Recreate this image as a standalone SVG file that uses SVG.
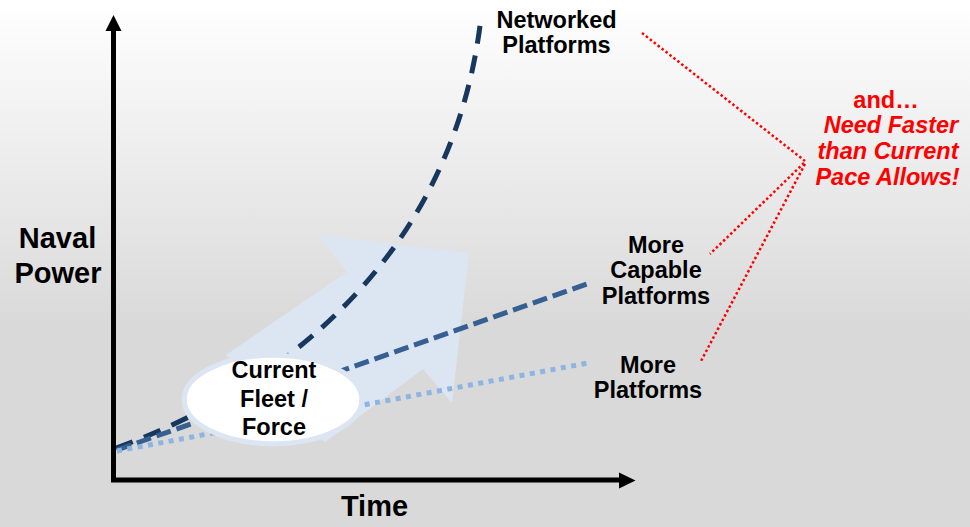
<svg xmlns="http://www.w3.org/2000/svg" width="970" height="527" viewBox="0 0 970 527">
  <defs>
    <linearGradient id="bg" x1="0" y1="0" x2="0" y2="1">
      <stop offset="0" stop-color="#ffffff"/>
      <stop offset="0.62" stop-color="#d9d9d9"/>
      <stop offset="1" stop-color="#d9d9d9"/>
    </linearGradient>
  </defs>
  <style>
    text { font-family: "Liberation Sans", Arial, sans-serif; font-weight: bold; text-anchor: middle; fill: #000000; }
    .axis-label { font-size: 29px; }
    .label { font-size: 23.5px; }
    .red { fill: #ff0000; font-size: 23.5px; }
    .ital { font-style: italic; }
    .axis { stroke: #000000; stroke-width: 5; fill: none; }
    .head { fill: #000000; }
    .net { stroke: #17375e; stroke-width: 5; fill: none; stroke-dasharray: 18 12; }
    .cap { stroke: #376092; stroke-width: 5; fill: none; stroke-dasharray: 15 6; }
    .plat { stroke: #8db4e2; stroke-width: 5; fill: none; stroke-dasharray: 5 5.5; }
    .reddot { stroke: #ff0000; stroke-width: 2.5; fill: none; stroke-dasharray: 2.5 2.5; }
  </style>

  <rect x="0" y="0" width="970" height="527" fill="url(#bg)"/>

  <g id="growth-arrow">
    <polygon points="226,355 347,272 318,235 469,253 452,403 423,369 325,442" fill="#dce6f2"/>
  </g>

  <g id="series">
    <path class="net" d="M116,448 C250,400 450,280 481,18"/>
    <line class="cap" x1="117" y1="450" x2="590" y2="283"/>
    <line class="plat" x1="117" y1="451" x2="588" y2="363"/>
  </g>

  <g id="current-fleet">
    <ellipse cx="273" cy="399.5" rx="88.8" ry="44.2" fill="#ffffff" stroke="#dce6f2" stroke-width="5"/>
    <text class="label" x="274" y="378">Current</text>
    <text class="label" x="274" y="406.5">Fleet /</text>
    <text class="label" x="274" y="435">Force</text>
  </g>

  <g id="axes">
    <line class="axis" x1="113.5" y1="482" x2="113.5" y2="28"/>
    <polygon class="head" points="113.5,15 105.5,31 121.5,31"/>
    <line class="axis" x1="111" y1="480" x2="622" y2="480"/>
    <polygon class="head" points="635.5,480.5 619,472.5 619,488.5"/>
  </g>

  <g id="y-label">
    <text class="axis-label" x="57.5" y="248">Naval</text>
    <text class="axis-label" x="58" y="283">Power</text>
  </g>

  <g id="x-label">
    <text class="axis-label" x="374.5" y="516">Time</text>
  </g>

  <g id="networked-label">
    <text class="label" x="556.5" y="28">Networked</text>
    <text class="label" x="556.5" y="53">Platforms</text>
  </g>

  <g id="capable-label">
    <text class="label" x="656" y="253">More</text>
    <text class="label" x="656" y="278">Capable</text>
    <text class="label" x="656" y="304">Platforms</text>
  </g>

  <g id="platforms-label">
    <text class="label" x="648" y="373">More</text>
    <text class="label" x="648" y="398">Platforms</text>
  </g>

  <g id="pace-note">
    <text class="red" x="886" y="108">and…</text>
    <text class="red ital" x="891" y="133">Need Faster</text>
    <text class="red ital" x="888" y="159">than Current</text>
    <text class="red ital" x="887.5" y="185">Pace Allows!</text>
  </g>

  <g id="connectors">
    <line class="reddot" x1="642" y1="33" x2="805" y2="161"/>
    <line class="reddot" x1="804" y1="163" x2="710" y2="254"/>
    <line class="reddot" x1="805" y1="164" x2="700" y2="363"/>
  </g>
</svg>
